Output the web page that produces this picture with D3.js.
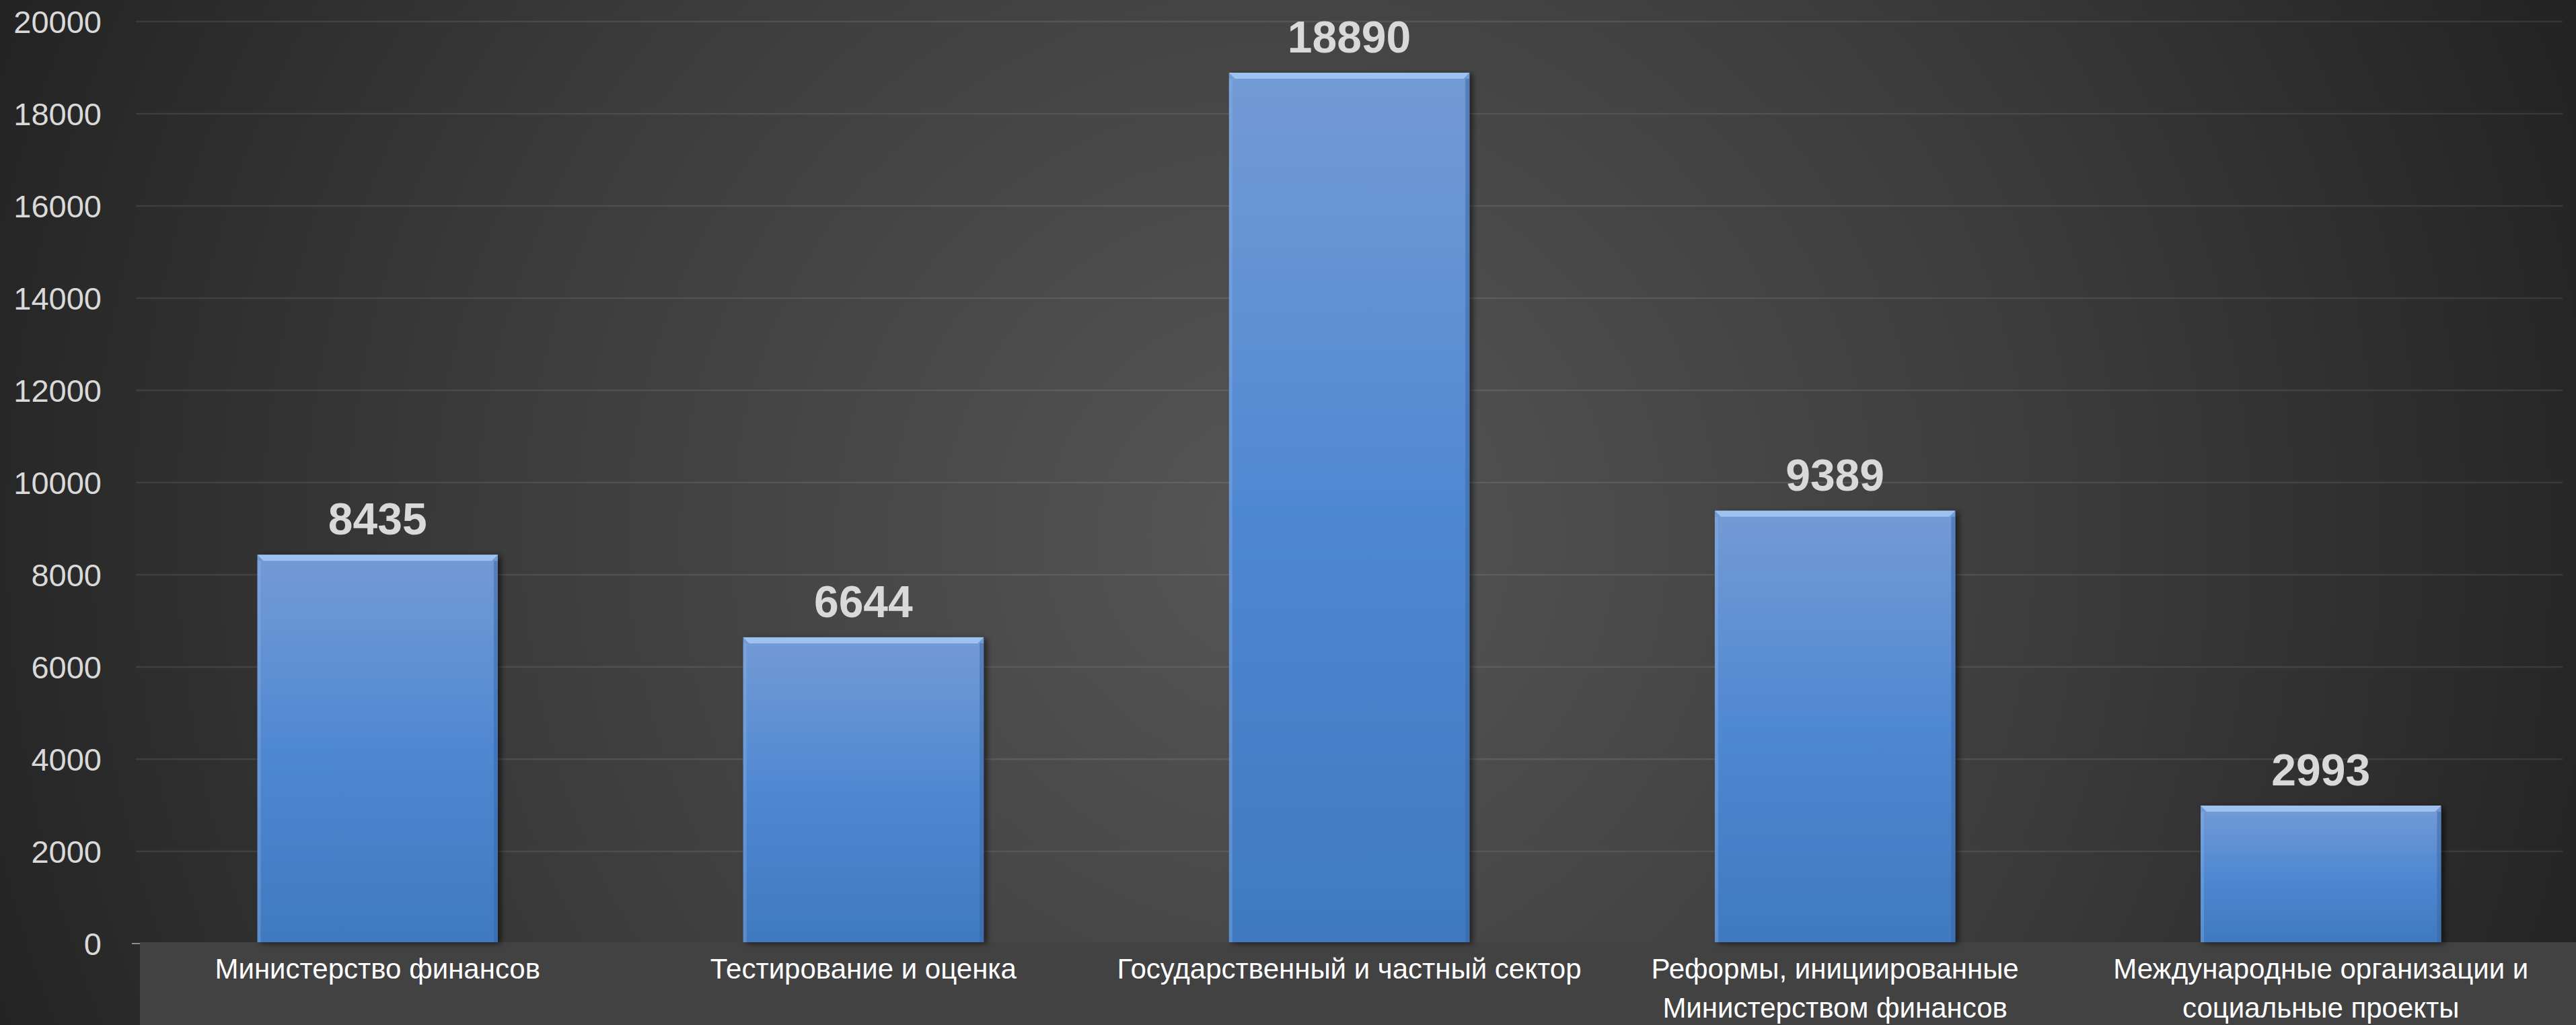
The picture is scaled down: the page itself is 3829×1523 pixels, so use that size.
<!DOCTYPE html>
<html>
<head>
<meta charset="utf-8">
<script src="https://cdn.jsdelivr.net/npm/d3@7"></script>
<style>
  html, body { margin: 0; padding: 0; background: #2a2a2a; }
  svg { display: block; }
</style>
</head>
<body>
<div class="canvas-container"></div>
<script>

var categories = [
    "Министерство финансов",
    "Тестирование и оценка",
    "Государственный и частный сектор",
    "Реформы, инициированные\nМинистерством финансов",
    "Международные организации и\nсоциальные проекты"
];
var values = [8435, 6644, 18890, 9389, 2993];
var yTicks = [0, 2000, 4000, 6000, 8000, 10000, 12000, 14000, 16000, 18000, 20000];


function drawChart () {

    var svg, defs, width, height, margin, x, y, bg, grad, bars;

    width = 3829;
    height = 1523;
    margin = {top: 32, right: 20, bottom: 121, left: 202};

    svg = d3.select("div.canvas-container")
        .append("svg")
        .attr("width", width)
        .attr("height", height);

    defs = svg.append("defs");

    // dark background, lighter in the middle
    bg = defs.append("radialGradient")
        .attr("id", "bg")
        .attr("gradientUnits", "userSpaceOnUse")
        .attr("cx", 1900).attr("cy", 800).attr("r", 2100);
    bg.append("stop").attr("offset", "0%").attr("stop-color", "#565656");
    bg.append("stop").attr("offset", "55%").attr("stop-color", "#3c3c3c");
    bg.append("stop").attr("offset", "100%").attr("stop-color", "#222222");

    grad = defs.append("linearGradient")
        .attr("id", "barFill")
        .attr("x1", 0).attr("y1", 0).attr("x2", 0).attr("y2", 1);
    grad.append("stop").attr("offset", "0%").attr("stop-color", "#739bd5");
    grad.append("stop").attr("offset", "50%").attr("stop-color", "#5088d2");
    grad.append("stop").attr("offset", "100%").attr("stop-color", "#4079c0");

    var shadow = defs.append("filter").attr("id", "shadow")
        .attr("x", "-10%").attr("y", "-10%").attr("width", "130%").attr("height", "120%");
    shadow.append("feDropShadow")
        .attr("dx", 5).attr("dy", 2).attr("stdDeviation", 4)
        .attr("flood-color", "#000").attr("flood-opacity", 0.55);

    svg.append("rect")
        .attr("width", width).attr("height", height)
        .attr("fill", "url(#bg)");

    x = d3.scaleBand()
        .domain(categories)
        .range([margin.left, width - margin.right])
        .paddingInner(0.505)
        .paddingOuter(0.25);

    y = d3.scaleLinear()
        .domain([0, 20000])
        .range([height - margin.bottom, margin.top]);

    // gridlines
    svg.append("g")
        .selectAll("line")
        .data(yTicks.slice(1))
        .enter()
        .append("line")
        .attr("x1", margin.left)
        .attr("x2", width - margin.right)
        .attr("y1", function (d) { return y(d); })
        .attr("y2", function (d) { return y(d); })
        .attr("stroke", "rgba(255,255,255,0.09)")
        .attr("stroke-width", 2.5);

    // y axis labels
    var yAxis = d3.axisLeft(y).tickValues(yTicks).tickFormat(d3.format("d"))
        .tickSize(0).tickPadding(0);
    var ya = svg.append("g")
        .attr("transform", "translate(151,0)")
        .call(yAxis);
    ya.select(".domain").remove();
    ya.selectAll("text")
        .attr("fill", "#d9d9d9")
        .attr("dy", "0.36em")
        .style("font-family", "'Liberation Sans', Arial, sans-serif")
        .style("font-size", "47px");

    // band behind category labels
    svg.append("rect")
        .attr("x", 208)
        .attr("y", y(0) - 2)
        .attr("width", width - 208)
        .attr("height", height - y(0) + 2)
        .attr("fill", "#424242");

    svg.append("line")
        .attr("x1", 196).attr("x2", 208)
        .attr("y1", y(0)).attr("y2", y(0))
        .attr("stroke", "#8c8c8c").attr("stroke-width", 2);

    // bars
    bars = svg.append("g")
        .selectAll("g")
        .data(values)
        .enter()
        .append("g");

    bars.append("rect")
        .attr("x", function (d, i) { return x(categories[i]); })
        .attr("y", function (d) { return y(d); })
        .attr("width", x.bandwidth())
        .attr("height", function (d) { return y(0) - y(d) - 2; })
        .attr("fill", "url(#barFill)")
        .attr("filter", "url(#shadow)");

    // bevel on top edge
    bars.append("path")
        .attr("d", function (d, i) {
            var x0 = x(categories[i]), x1 = x0 + x.bandwidth(), t = y(d), b = 9;
            return "M" + x0 + "," + t + "L" + x1 + "," + t +
                "L" + (x1 - b) + "," + (t + b) + "L" + (x0 + b) + "," + (t + b) + "Z";
        })
        .attr("fill", "#a6c8f4")
        .attr("opacity", 0.85);

    // darker side edges
    bars.append("rect")
        .attr("x", function (d, i) { return x(categories[i]) + x.bandwidth() - 6; })
        .attr("y", function (d) { return y(d) + 9; })
        .attr("width", 6)
        .attr("height", function (d) { return y(0) - y(d) - 11; })
        .attr("fill", "#3a64a0")
        .attr("opacity", 0.5);

    bars.append("rect")
        .attr("x", function (d, i) { return x(categories[i]); })
        .attr("y", function (d) { return y(d) + 9; })
        .attr("width", 5)
        .attr("height", function (d) { return y(0) - y(d) - 11; })
        .attr("fill", "#8fb4e6")
        .attr("opacity", 0.35);

    // value labels
    bars.append("text")
        .attr("x", function (d, i) { return x(categories[i]) + x.bandwidth() / 2; })
        .attr("y", function (d) { return y(d) - 30; })
        .attr("text-anchor", "middle")
        .attr("fill", "#d9d9d9")
        .style("font-family", "'Liberation Sans', Arial, sans-serif")
        .style("font-weight", "bold")
        .style("font-size", "66px")
        .text(function (d) { return d; });

    // category labels
    var labels = svg.append("g")
        .selectAll("text")
        .data(categories)
        .enter()
        .append("text")
        .attr("x", function (d) { return x(d) + x.bandwidth() / 2; })
        .attr("y", 1454)
        .attr("text-anchor", "middle")
        .attr("fill", "#ffffff")
        .style("font-family", "'Liberation Sans', Arial, sans-serif")
        .style("font-size", "42px");

    labels.selectAll("tspan")
        .data(function (d) { return d.split("\n"); })
        .enter()
        .append("tspan")
        .attr("x", function () { var p = d3.select(this.parentNode).datum(); return x(p) + x.bandwidth() / 2; })
        .attr("dy", function (d, i) { return i === 0 ? 0 : 58; })
        .text(function (d) { return d; });
}

drawChart();
</script>
</body>
</html>
